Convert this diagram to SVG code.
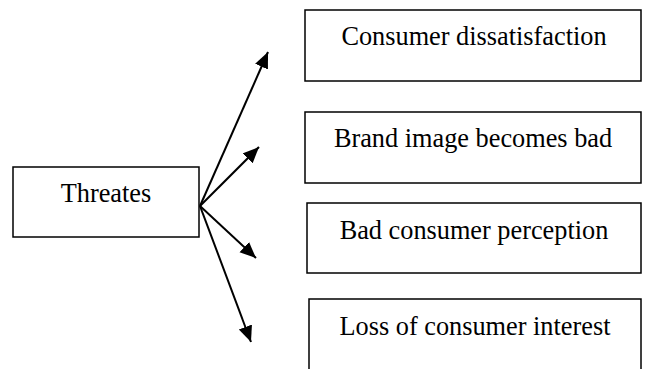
<svg xmlns="http://www.w3.org/2000/svg" width="647" height="369" viewBox="0 0 647 369">
  <style>
    .box { fill: #fff; stroke: #000; stroke-width: 1.5; }
    .lbl { font-family: "Liberation Serif", "Times New Roman", serif; font-size: 26.3px; fill: #000; text-anchor: middle; }
    .arrow { stroke: #000; stroke-width: 2; fill: none; marker-end: url(#head); }
  </style>
  <defs>
    <marker id="head" markerUnits="userSpaceOnUse" markerWidth="17" markerHeight="15" refX="16" refY="7" orient="auto">
      <path d="M0,0 L16,7 L0,14 z" fill="#000"/>
    </marker>
  </defs>

  <g id="threates">
    <rect class="box" x="13" y="167" width="186" height="70"/>
    <text class="lbl" x="106" y="202">Threates</text>
  </g>

  <g id="consumer-dissatisfaction">
    <rect class="box" x="305" y="10" width="336" height="71"/>
    <text class="lbl" x="474" y="45">Consumer dissatisfaction</text>
  </g>

  <g id="brand-image">
    <rect class="box" x="305" y="112" width="336" height="71"/>
    <text class="lbl" x="473" y="147">Brand image becomes bad</text>
  </g>

  <g id="bad-perception">
    <rect class="box" x="307" y="203" width="334" height="70"/>
    <text class="lbl" x="474" y="239">Bad consumer perception</text>
  </g>

  <g id="loss-of-interest">
    <rect class="box" x="309" y="299" width="332" height="90"/>
    <text class="lbl" x="475" y="335">Loss of consumer interest</text>
  </g>

  <g id="connectors">
    <line class="arrow" x1="200" y1="206" x2="268" y2="52"/>
    <line class="arrow" x1="200" y1="206" x2="259" y2="147"/>
    <line class="arrow" x1="200" y1="206" x2="256" y2="258"/>
    <line class="arrow" x1="200" y1="206" x2="251" y2="342"/>
  </g>
</svg>
